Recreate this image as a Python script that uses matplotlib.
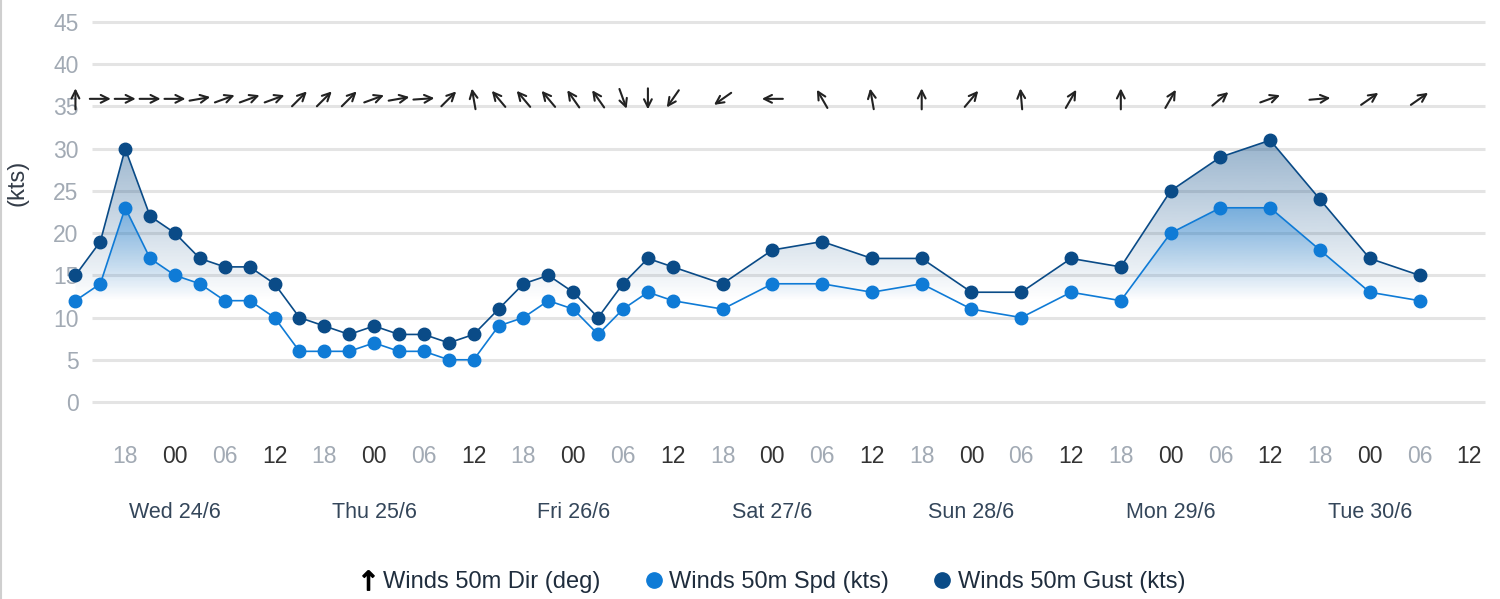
import numpy as np
import matplotlib
matplotlib.use("Agg")
import matplotlib.pyplot as plt
from matplotlib.lines import Line2D
from matplotlib.patches import Polygon
from matplotlib.transforms import ScaledTranslation
from matplotlib.colors import to_rgb

plt.rcParams['font.family'] = ['Liberation Sans', 'DejaVu Sans']
NARROW = ['Liberation Sans Narrow', 'Liberation Sans', 'DejaVu Sans']

# hours relative to Wed 24/6 00:00
hours = [-12, -9, -6, -3, 0, 3, 6, 9, 12, 15, 18, 21, 24, 27, 30, 33, 36, 39, 42, 45,
         48, 51, 54, 57, 60, 66, 72, 78, 84, 90, 96, 102, 108, 114, 120, 126, 132, 138,
         144, 150]
spd = [12, 14, 23, 17, 15, 14, 12, 12, 10, 6, 6, 6, 7, 6, 6, 5, 5, 9, 10, 12,
       11, 8, 11, 13, 12, 11, 14, 14, 13, 14, 11, 10, 13, 12, 20, 23, 23, 18, 13, 12]
gust = [15, 19, 30, 22, 20, 17, 16, 16, 14, 10, 9, 8, 9, 8, 8, 7, 8, 11, 14, 15,
        13, 10, 14, 17, 16, 14, 18, 19, 17, 17, 13, 13, 17, 16, 25, 29, 31, 24, 17, 15]
# direction wind comes from (deg)
wdir = [180, 270, 270, 270, 270, 260, 250, 250, 250, 225, 225, 225, 250, 260, 266, 225,
        170, 140, 140, 140, 145, 145, 340, 0, 35, 55, 90, 150, 170, 180, 220, 175, 210,
        180, 210, 230, 250, 265, 235, 235]

tick_hours = list(range(-6, 157, 6))
tick_labels = ["18", "00", "06", "12"] * 7
day_hours = [0, 24, 48, 72, 96, 120, 144]
day_labels = ["Wed 24/6", "Thu 25/6", "Fri 26/6", "Sat 27/6", "Sun 28/6", "Mon 29/6", "Tue 30/6"]
y_ticks = [0, 5, 10, 15, 20, 25, 30, 35, 40, 45]

SPD_C = "#0f7bd6"
GUST_C = "#0a4b87"

W, H = 1500, 599
fig = plt.figure(figsize=(W / 100, H / 100), dpi=100)
px_per_h = 49.78 / 6
x_left_px, x_right_px = 62, 1490
x0 = (x_left_px - 175) / px_per_h
x1 = (x_right_px - 175) / px_per_h
ax = fig.add_axes([x_left_px / W, (H - 402) / H, (x_right_px - x_left_px) / W, 380 / H])
for s in ax.spines.values():
    s.set_visible(False)

# grid lines
g0 = (92 - 175) / px_per_h
g1 = (1485 - 175) / px_per_h
ax.hlines(y_ticks, g0, g1, colors="#e4e4e4", lw=2.2, zorder=0, clip_on=False)


def gradient_fill(xs, ys, color, top, bottom, amax, z):
    verts = list(zip(xs, ys)) + [(xs[-1], 0), (xs[0], 0)]
    poly = Polygon(verts, closed=True, facecolor="none", edgecolor="none",
                   transform=ax.transData)
    ax.add_patch(poly)
    yy = np.linspace(0, 45, 400)
    a = amax * np.clip((yy - bottom) / (top - bottom), 0, 1)
    img = np.zeros((400, 1, 4))
    img[:, 0, :3] = to_rgb(color)
    img[:, 0, 3] = a
    im = ax.imshow(img, extent=[x0, x1, 0, 45], origin="lower", aspect="auto",
                   interpolation="bilinear", zorder=z)
    im.set_clip_path(poly)


gradient_fill(hours, gust, GUST_C, 31, 12, 0.42, 1)
gradient_fill(hours, spd, SPD_C, 23, 12, 0.42, 1.1)

ax.plot(hours, spd, color=SPD_C, lw=1.2, marker="o", ms=9, zorder=3, clip_on=False)
ax.plot(hours, gust, color=GUST_C, lw=1.2, marker="o", ms=9, zorder=4, clip_on=False)

# direction arrows
L = 0.21
yc = 35.9
for h, d in zip(hours, wdir):
    b = np.deg2rad((d + 180) % 360)
    ux, uy = np.sin(b), np.cos(b)
    head = ax.transData + ScaledTranslation(ux * L / 2, uy * L / 2, fig.dpi_scale_trans)
    tail = ax.transData + ScaledTranslation(-ux * L / 2, -uy * L / 2, fig.dpi_scale_trans)
    ax.annotate("", xy=(h, yc), xycoords=head, xytext=(h, yc), textcoords=tail,
                arrowprops=dict(arrowstyle="->", lw=1.5, color="#222222",
                                shrinkA=0, shrinkB=0, mutation_scale=14),
                annotation_clip=False, zorder=5)

ax.set_xlim(x0, x1)
ax.set_ylim(0, 45)

ax.set_yticks(y_ticks)
ax.set_yticklabels([str(v) for v in y_ticks], family=NARROW, fontsize=16.5, color="#a2aab4")
ax.tick_params(axis="y", length=0, pad=-12)

ax.set_xticks(tick_hours)
ax.set_xticklabels(tick_labels, family=NARROW, fontsize=16.5)
for lab, t in zip(ax.get_xticklabels(), tick_labels):
    lab.set_color("#a2aab4" if t in ("18", "06") else "#333333")
ax.tick_params(axis="x", length=0, pad=31)

for h, lab in zip(day_hours, day_labels):
    ax.text(h, -0.292, lab, transform=ax.get_xaxis_transform(), ha="center", va="center",
            family=NARROW, fontsize=15.5, color="#34465a")

fig.text(18 / W, 1 - 183 / H, "(kts)", rotation=90, ha="center", va="center",
         fontsize=17, color="#333c48")

fig.add_artist(Line2D([0.0008, 0.0008], [0, 1], transform=fig.transFigure,
                      color="#cfcfcf", lw=1.5))

handles = [
    Line2D([], [], ls="none", marker=r"$\uparrow$", color="black", ms=14),
    Line2D([], [], ls="none", marker="o", color=SPD_C, ms=11),
    Line2D([], [], ls="none", marker="o", color=GUST_C, ms=11),
]
labels = ["Winds 50m Dir (deg)", "Winds 50m Spd (kts)", "Winds 50m Gust (kts)"]
fig.legend(handles, labels, loc="center", bbox_to_anchor=(0.515, 0.028), ncol=3,
           frameon=False, fontsize=17, labelcolor="#1f2d3d", handlelength=0.7,
           handletextpad=0.3, columnspacing=1.9)

fig.savefig("out.png", dpi=100)
